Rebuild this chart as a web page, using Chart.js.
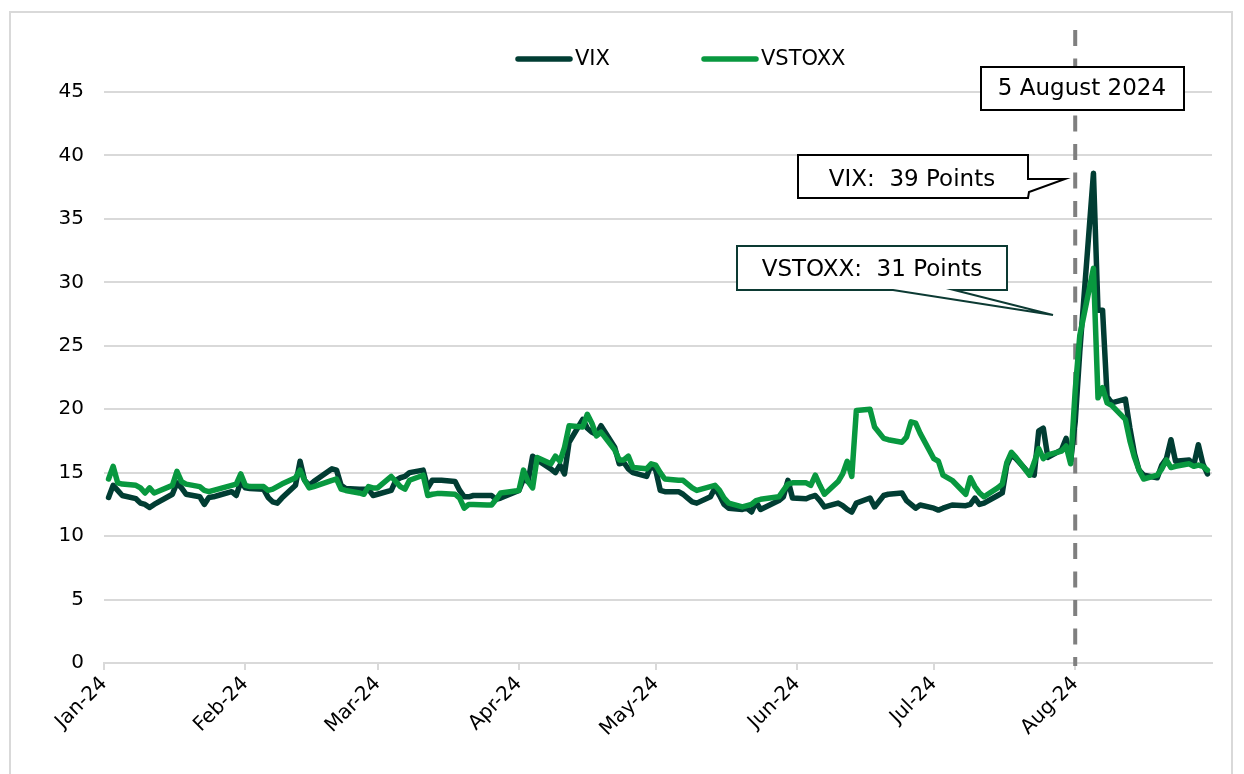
<!DOCTYPE html>
<html>
<head>
<meta charset="utf-8">
<title>VIX vs VSTOXX 2024</title>
<script src="https://cdn.jsdelivr.net/npm/chart.js@4.4.1/dist/chart.umd.min.js"></script>
<style>
  html, body { margin: 0; padding: 0; background: #fff; overflow: hidden; }
  #frame { position: absolute; left: 9px; top: 11px; width: 1224px; height: 800px;
           border: 2px solid #d9d9d9; box-sizing: border-box; }
  #wrap { position: absolute; left: 0; top: 0; width: 1244px; height: 774px; }
</style>
</head>
<body>
<div id="frame"></div>
<div id="wrap"><canvas id="vol-chart" width="1244" height="774"></canvas></div>
<script>
// Axis runs over the whole period, data only on trading days (US calendar)
const axisStart = '2024-01-01';
const axisEnd = '2024-08-31';
const startDate = '2024-01-02';
const endDate = '2024-08-30';
const holidays = ['2024-01-15', '2024-02-19', '2024-03-29', '2024-05-27', '2024-06-19', '2024-07-04'];

// Axis labels, one per month start
const monthLabels = ['Jan-24', 'Feb-24', 'Mar-24', 'Apr-24', 'May-24', 'Jun-24', 'Jul-24', 'Aug-24'];

// Date of the dashed marker
const markerDate = '2024-08-01';

// VIX close, one value per trading day
const vix = [
  13.05, 14.0, 13.6, 13.2, 12.95, 12.6, 12.5, 12.25, 12.5, 13.3, 14.2, 13.8, 13.3, 13.1, 12.5, 13.05, 13.1, 13.2, 13.5, 13.2, 14.3,
  13.8, 13.75, 13.7, 13.05, 12.7, 12.6, 13.0, 14.0, 15.9, 14.4, 14.0, 14.3, 15.3, 15.2, 14.0, 13.75, 13.7, 13.7, 13.7, 13.2,
  13.3, 13.6, 14.4, 14.6, 14.7, 15.0, 15.2, 13.8, 14.4, 14.4, 14.4, 14.3, 13.6, 13.1, 13.1, 13.2, 13.2, 13.2, 12.9, 13.0,
  13.6, 14.5, 14.3, 16.3, 16.0, 15.3, 15.0, 15.6, 14.9, 17.4, 19.2, 18.5, 18.2, 18.0, 18.7, 17.0, 15.7, 15.8, 15.3, 15.0, 14.7, 15.6,
  15.2, 13.6, 13.5, 13.5, 13.3, 13.0, 12.7, 12.6, 13.1, 13.8, 13.2, 12.5, 12.2, 12.1, 12.2, 11.9, 12.7, 12.1, 12.8, 13.1, 14.4, 13.0,
  12.95, 13.1, 13.2, 12.8, 12.3, 12.6, 12.4, 12.1, 11.9, 12.6, 13.0, 12.3, 13.2, 13.3, 13.4, 12.8, 12.5, 12.2, 12.45,
  12.2, 12.05, 12.2, 12.45, 12.4, 12.5, 13.0, 12.5, 12.6, 13.2, 13.4, 15.6, 16.4, 16.1, 14.9, 14.8, 18.3, 18.5, 16.2, 16.8, 17.7, 15.9,
  19.0, 24.5, 38.6, 27.8, 27.8, 21.0, 20.5, 20.8, 18.5, 16.5, 15.2, 14.8, 14.6, 15.6, 16.1, 17.6, 15.9, 16.0, 15.6, 17.2, 15.7, 14.9
];

// VSTOXX close, same days
const vstoxx = [
  14.5, 15.5, 14.2, 14.1, 14.0, 13.8, 13.4, 13.8, 13.4, 14.0, 15.1, 14.3, 14.1, 13.9, 13.6, 13.5, 13.6, 13.7, 14.0, 14.1, 14.9,
  14.0, 13.9, 13.9, 13.6, 13.7, 13.9, 14.1, 14.6, 15.2, 14.4, 13.8, 13.9, 14.4, 14.5, 13.7, 13.6, 13.4, 13.3, 13.9, 13.8,
  13.8, 14.7, 14.3, 13.9, 13.7, 14.4, 14.8, 13.2, 13.3, 13.35, 13.35, 13.3, 13.0, 12.2, 12.5, 12.5, 12.45, 12.45, 12.9, 13.4,
  13.6, 15.2, 14.3, 13.8, 16.2, 15.7, 16.3, 15.9, 17.0, 18.7, 18.6, 19.6, 18.9, 17.9, 18.2, 16.8, 16.0, 16.0, 16.3, 15.4, 15.3, 15.7,
  15.6, 15.0, 14.5, 14.4, 14.4, 14.1, 13.8, 13.6, 13.9, 14.0, 13.6, 13.0, 12.6, 12.3, 12.4, 12.5, 12.8, 12.9, 13.1, 13.6, 14.1, 14.2,
  14.2, 14.0, 14.8, 14.0, 13.3, 14.3, 14.9, 15.9, 14.7, 19.9, 20.0, 18.6, 17.7, 17.6, 17.4, 17.8, 19.0, 18.9, 18.1,
  16.1, 15.9, 14.8, 14.4, 13.3, 14.6, 13.9, 13.4, 13.1, 13.8, 14.1, 15.8, 16.6, 16.2, 14.8, 15.8, 16.9, 16.1, 16.4, 16.7, 17.1, 15.7,
  21.5, 25.8, 31.1, 20.9, 21.7, 20.5, 20.3, 19.2, 17.5, 16.2, 15.2, 14.5, 14.8, 15.3, 16.0, 15.4, 15.5, 15.7, 15.5, 15.6, 15.5, 15.2
];

const VIX_COLOR = '#013d33';
const VSTOXX_COLOR = '#08983f';
const FONT = "'DejaVu Sans', Verdana, sans-serif";

// day number counted from 1 Jan 2024
function dayNum(iso) {
  const p = iso.split('-').map(Number);
  return (Date.UTC(p[0], p[1] - 1, p[2]) - Date.UTC(2024, 0, 1)) / 86400000;
}

// build the list of trading days
const tradeDays = [];
for (let d = dayNum(startDate); d <= dayNum(endDate); d++) {
  const dt = new Date(Date.UTC(2024, 0, 1 + d));
  const wd = dt.getUTCDay();
  const iso = dt.toISOString().slice(0, 10);
  if (wd === 0 || wd === 6 || holidays.includes(iso)) continue;
  tradeDays.push(d);
}
if (tradeDays.length !== vix.length || tradeDays.length !== vstoxx.length) {
  console.error('length mismatch', tradeDays.length, vix.length, vstoxx.length);
}

const monthTicks = monthLabels.map((_, i) => (Date.UTC(2024, i, 1) - Date.UTC(2024, 0, 1)) / 86400000);

// Legend + annotations drawn on the canvas
const overlay = {
  id: 'overlay',
  beforeDatasetsDraw(chart) {
    const ctx = chart.ctx;
    const x = chart.scales.x.getPixelForValue(dayNum(markerDate));
    ctx.save();
    ctx.strokeStyle = '#7f7f7f';
    ctx.lineWidth = 4;
    ctx.setLineDash([16, 12.5]);
    ctx.beginPath();
    ctx.moveTo(x, 30);
    ctx.lineTo(x, chart.chartArea.bottom + 3);
    ctx.stroke();
    ctx.restore();
  },
  afterDraw(chart) {
    const ctx = chart.ctx;
    ctx.save();

    // legend
    const items = [
      { label: 'VIX', color: VIX_COLOR, x: 518 },
      { label: 'VSTOXX', color: VSTOXX_COLOR, x: 704 }
    ];
    ctx.font = '21px ' + FONT;
    ctx.textBaseline = 'middle';
    ctx.textAlign = 'left';
    items.forEach(it => {
      ctx.strokeStyle = it.color;
      ctx.lineWidth = 5.5;
      ctx.lineCap = 'round';
      ctx.beginPath();
      ctx.moveTo(it.x, 59);
      ctx.lineTo(it.x + 52, 59);
      ctx.stroke();
      ctx.fillStyle = '#000';
      ctx.fillText(it.label, it.x + 57, 60);
    });

    ctx.lineCap = 'butt';
    ctx.lineJoin = 'miter';
    ctx.lineWidth = 2;
    ctx.font = '23px ' + FONT;
    ctx.textAlign = 'center';

    // date box
    ctx.fillStyle = '#fff';
    ctx.strokeStyle = '#000';
    ctx.fillRect(981, 67, 203, 43);
    ctx.strokeRect(981, 67, 203, 43);
    ctx.fillStyle = '#000';
    ctx.fillText('5 August 2024', 1082, 89);

    // VIX callout
    ctx.beginPath();
    ctx.moveTo(798, 155);
    ctx.lineTo(1028, 155);
    ctx.lineTo(1028, 179);
    ctx.lineTo(1065, 179);
    ctx.lineTo(1029, 192);
    ctx.lineTo(1028, 198);
    ctx.lineTo(798, 198);
    ctx.closePath();
    ctx.fillStyle = '#fff';
    ctx.fill();
    ctx.strokeStyle = '#000';
    ctx.stroke();
    ctx.fillStyle = '#000';
    ctx.fillText('VIX:  39 Points', 912, 180);

    // VSTOXX callout
    ctx.beginPath();
    ctx.moveTo(737, 246);
    ctx.lineTo(1007, 246);
    ctx.lineTo(1007, 290);
    ctx.lineTo(954, 290);
    ctx.lineTo(1053, 315);
    ctx.lineTo(893, 290);
    ctx.lineTo(737, 290);
    ctx.closePath();
    ctx.fillStyle = '#fff';
    ctx.fill();
    ctx.strokeStyle = '#0c3a33';
    ctx.stroke();
    ctx.fillStyle = '#000';
    ctx.fillText('VSTOXX:  31 Points', 872, 270);

    ctx.restore();
  }
};

const ctx = document.getElementById('vol-chart').getContext('2d');
const volChart = new Chart(ctx, {
  type: 'line',
  data: {
    datasets: [
      {
        label: 'VIX',
        data: tradeDays.map((d, i) => ({ x: d, y: vix[i] })),
        borderColor: VIX_COLOR,
        borderWidth: 5.5,
        pointRadius: 0,
        tension: 0,
        borderJoinStyle: 'round',
        borderCapStyle: 'round',
        fill: false,
        order: 1
      },
      {
        label: 'VSTOXX',
        data: tradeDays.map((d, i) => ({ x: d, y: vstoxx[i] })),
        borderColor: VSTOXX_COLOR,
        borderWidth: 5.5,
        pointRadius: 0,
        tension: 0,
        borderJoinStyle: 'round',
        borderCapStyle: 'round',
        fill: false,
        order: 0
      }
    ]
  },
  options: {
    responsive: false,
    animation: false,
    devicePixelRatio: 1,
    layout: { padding: { top: 92, right: 32, left: 0, bottom: 0 } },
    plugins: {
      legend: { display: false },
      tooltip: { enabled: false }
    },
    scales: {
      x: {
        type: 'linear',
        min: dayNum(axisStart),
        max: dayNum(axisEnd),
        afterBuildTicks: s => { s.ticks = monthTicks.map(v => ({ value: v })); },
        afterFit: s => { s.height = 111; },
        ticks: {
          autoSkip: false,
          maxRotation: 45,
          minRotation: 45,
          padding: 2,
          color: '#000',
          font: { family: FONT, size: 20 },
          callback: (v, i) => monthLabels[i]
        },
        grid: { drawOnChartArea: false, color: '#d9d9d9', lineWidth: 2, tickLength: 7 },
        border: { color: '#d9d9d9', width: 2 }
      },
      y: {
        min: 0,
        max: 45,
        afterFit: s => { s.width = 104; },
        ticks: {
          stepSize: 5,
          padding: 20,
          color: '#000',
          font: { family: FONT, size: 20 }
        },
        grid: { color: '#d9d9d9', lineWidth: 2, drawTicks: false },
        border: { display: false }
      }
    }
  },
  plugins: [overlay]
});
</script>
</body>
</html>
